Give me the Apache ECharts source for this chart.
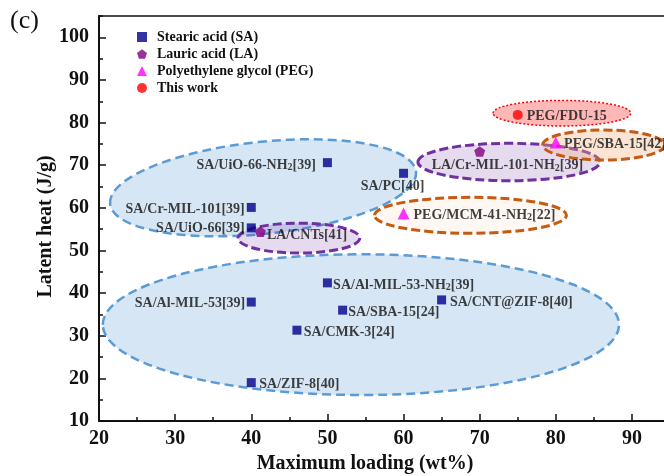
<!DOCTYPE html>
<html>
<head>
<meta charset="utf-8">
<script src="https://cdn.jsdelivr.net/npm/echarts@6/dist/echarts.min.js"></script>
<style>
  html, body { margin: 0; padding: 0; background: #fff; }
  #chart { width: 664px; height: 476px; }
</style>
</head>
<body>
<div id="chart"></div>
<script>
// Stearic acid (SA) composites: maximum loading (wt%) vs latent heat (J/g)
const saLabels  = ['SA/UiO-66-NH2[39]', 'SA/PC[40]', 'SA/Cr-MIL-101[39]', 'SA/UiO-66[39]',
                   'SA/Al-MIL-53-NH2[39]', 'SA/Al-MIL-53[39]', 'SA/CNT@ZIF-8[40]',
                   'SA/SBA-15[24]', 'SA/CMK-3[24]', 'SA/ZIF-8[40]'];
const saLoading = [50, 60, 40, 40, 50, 40, 65, 52, 46, 40];
const saHeat    = [70.6, 68.1, 60.1, 55.3, 42.4, 37.9, 38.4, 36.0, 31.3, 19.0];

// Lauric acid (LA) composites
const laLabels  = ['LA/CNTs[41]', 'LA/Cr-MIL-101-NH2[39]'];
const laLoading = [41.2, 70];
const laHeat    = [54.4, 73.2];

// Polyethylene glycol (PEG) composites
const pegLabels  = ['PEG/SBA-15[42]', 'PEG/MCM-41-NH2[22]'];
const pegLoading = [80, 60];
const pegHeat    = [75.3, 58.7];

// This work
const workLabels  = ['PEG/FDU-15'];
const workLoading = [75];
const workHeat    = [81.8];

// Axis ticks
const xTicks = [20, 30, 40, 50, 60, 70, 80, 90];
const yTicks = [10, 20, 30, 40, 50, 60, 70, 80, 90, 100];

// Grouping ellipses in data units: [centre loading, centre heat, half-width, half-height, tilt deg]
const zoneSA1   = [54.4, 32.6, 33.9, 16.5, 0];
const zoneSA2   = [41.55, 64.7, 20.2, 10.8, 6];
const zoneLA1   = [46.25, 52.9, 8.0, 3.5, 0];
const zonePEG1  = [68.8, 58.25, 12.6, 4.22, 0];
const zoneLA2   = [73.85, 70.75, 11.96, 4.39, 0];
const zonePEG2  = [86.27, 74.74, 8.0, 3.52, 0];
const zoneWork  = [80.8, 82.2, 9.04, 3.0, 0];

const SERIF = '"Liberation Serif", "Times New Roman", serif';

const zoneStyles = {
  sa:   { fill: 'rgba(91,155,213,0.25)', stroke: '#5B9BD5', lineWidth: 2.5, lineDash: [9, 5] },
  la:   { fill: 'rgba(112,48,160,0.18)', stroke: '#7030A0', lineWidth: 3, lineDash: [9, 4] },
  peg1: { fill: 'rgba(244,177,131,0.10)', stroke: '#C55A11', lineWidth: 3, lineDash: [9, 4] },
  peg2: { fill: 'rgba(244,177,131,0.35)', stroke: '#C55A11', lineWidth: 3, lineDash: [9, 4] },
  work: { fill: 'rgba(255,0,0,0.28)', stroke: '#FF0000', lineWidth: 1.5, lineDash: [2, 2] }
};
const zones = [zoneSA1, zoneSA2, zoneLA1, zonePEG1, zoneLA2, zonePEG2, zoneWork];
const zoneKinds = ['sa', 'sa', 'la', 'peg1', 'la', 'peg2', 'work'];

// Label placement per point: [position, dx, dy]
const labelPlace = {
  'SA/UiO-66-NH2[39]':    ['left', -2, 2.5],
  'SA/PC[40]':            ['bottom', -11, -3.5],
  'SA/Cr-MIL-101[39]':    ['left', 3, 2],
  'SA/UiO-66[39]':        ['left', 3, 0.6],
  'SA/Al-MIL-53-NH2[39]': ['right', -3.8, 2.3],
  'SA/Al-MIL-53[39]':     ['left', 3.5, 1.3],
  'SA/CNT@ZIF-8[40]':     ['right', -1.2, 2.3],
  'SA/SBA-15[24]':        ['right', -3.8, 2],
  'SA/CMK-3[24]':         ['right', -2.8, 2.4],
  'SA/ZIF-8[40]':         ['right', -1.5, 2],
  'LA/CNTs[41]':          ['right', -4, 4],
  'LA/Cr-MIL-101-NH2[39]':['bottom', 27.7, -3.5],
  'PEG/SBA-15[42]':       ['right', -2.7, 1.6],
  'PEG/MCM-41-NH2[22]':   ['right', -1, 1.7],
  'PEG/FDU-15':           ['right', -1, 1.7]
};

function points(labels, xs, ys) {
  return labels.map((n, i) => {
    const p = labelPlace[n];
    return { name: n, value: [xs[i], ys[i]], label: { position: p[0], offset: [p[1], p[2]] } };
  });
}

const pointLabel = {
  show: true,
  distance: 5,
  color: '#111',
  fontFamily: SERIF,
  fontWeight: 'bold',
  fontSize: 14,
  formatter: p => p.name.replace('NH2', 'NH{s|2}'),
  rich: {
    s: { fontFamily: SERIF, fontWeight: 'bold', fontSize: 10, color: '#111', padding: [5, 0, 0, 0] }
  }
};

const pentagon = 'path://M0,-1L0.951,-0.309L0.588,0.809L-0.588,0.809L-0.951,-0.309Z';

const axisText = { color: '#111', fontFamily: SERIF, fontWeight: 'bold', fontSize: 20 };

const chart = echarts.init(document.getElementById('chart'), null, { renderer: 'canvas' });

chart.setOption({
  animation: false,
  backgroundColor: '#fff',
  grid: { left: 99, top: 16, width: 571, height: 405, show: true,
          outerBoundsMode: 'none', containLabel: false,
          borderColor: '#111', borderWidth: 1.5, backgroundColor: 'transparent' },
  graphic: [{
    type: 'text', left: 10, top: 8,
    style: { text: '(c)', font: '26px ' + SERIF, fill: '#111' }
  }],
  legend: {
    orient: 'vertical', left: 132, top: 25,
    itemWidth: 10, itemHeight: 10, itemGap: 3,
    data: ['Stearic acid (SA)', 'Lauric acid (LA)', 'Polyethylene glycol (PEG)', 'This work'],
    textStyle: { color: '#111', fontFamily: SERIF, fontWeight: 'bold', fontSize: 14,
                 padding: [0, 0, 0, 5] }
  },
  xAxis: [{
    type: 'value', min: 20, max: 95, interval: 10, position: 'bottom',
    axisLine: { lineStyle: { color: '#111', width: 2 } },
    axisTick: { inside: true, length: 7, lineStyle: { color: '#111', width: 1.5 } },
    axisLabel: Object.assign({ margin: 8, showMaxLabel: false,
      formatter: v => xTicks.includes(v) ? String(v) : '' }, axisText),
    splitLine: { show: false },
    name: 'Maximum loading (wt%)', nameLocation: 'middle', nameGap: 33, nameMoveOverlap: false,
    nameTextStyle: Object.assign({ padding: [0, 39, 0, 0] }, axisText)
  }, {
    type: 'value', min: 20, max: 95, interval: 5, position: 'bottom',
    axisLine: { show: false },
    axisTick: { inside: true, length: 4, lineStyle: { color: '#111', width: 1.5 } },
    axisLabel: { show: false }, splitLine: { show: false }
  }],
  yAxis: [{
    type: 'value', min: 10, max: 105, interval: 10, position: 'left',
    axisLine: { lineStyle: { color: '#111', width: 2 } },
    axisTick: { inside: true, length: 7, lineStyle: { color: '#111', width: 1.5 } },
    axisLabel: Object.assign({ margin: 10, showMaxLabel: false,
      formatter: v => yTicks.includes(v) ? String(v) : '' }, axisText),
    splitLine: { show: false },
    name: 'Latent heat (J/g)', nameLocation: 'middle', nameGap: 43, nameMoveOverlap: false,
    nameTextStyle: Object.assign({ padding: [0, 16, 0, 0] }, axisText)
  }, {
    type: 'value', min: 10, max: 105, interval: 5, position: 'left',
    axisLine: { show: false },
    axisTick: { inside: true, length: 4, lineStyle: { color: '#111', width: 1.5 } },
    axisLabel: { show: false }, splitLine: { show: false }
  }],
  series: [
    {
      name: 'zones', type: 'custom', xAxisIndex: 0, yAxisIndex: 0, z: 1, silent: true,
      data: zones,
      renderItem: (params, api) => {
        const c = api.coord([api.value(0), api.value(1)]);
        const r = api.size([api.value(2), api.value(3)]);
        const st = zoneStyles[zoneKinds[params.dataIndex]];
        return {
          type: 'ellipse',
          x: c[0], y: c[1],
          rotation: api.value(4) * Math.PI / 180,
          shape: { cx: 0, cy: 0, rx: r[0], ry: r[1] },
          style: { fill: st.fill, stroke: st.stroke, lineWidth: st.lineWidth, lineDash: st.lineDash }
        };
      }
    },
    {
      name: 'Stearic acid (SA)', type: 'scatter', z: 5,
      symbol: 'rect', symbolSize: 9,
      itemStyle: { color: '#00008B' },
      label: pointLabel,
      data: points(saLabels, saLoading, saHeat)
    },
    {
      name: 'Lauric acid (LA)', type: 'scatter', z: 5,
      symbol: pentagon, symbolSize: 11, symbolKeepAspect: true,
      itemStyle: { color: '#800080' },
      label: pointLabel,
      data: points(laLabels, laLoading, laHeat)
    },
    {
      name: 'Polyethylene glycol (PEG)', type: 'scatter', z: 5,
      symbol: 'triangle', symbolSize: 12,
      itemStyle: { color: '#FF00FF' },
      label: pointLabel,
      data: points(pegLabels, pegLoading, pegHeat)
    },
    {
      name: 'This work', type: 'scatter', z: 5,
      symbol: 'circle', symbolSize: 10,
      itemStyle: { color: '#FF0000' },
      label: pointLabel,
      data: points(workLabels, workLoading, workHeat)
    }
  ]
});
</script>
</body>
</html>
